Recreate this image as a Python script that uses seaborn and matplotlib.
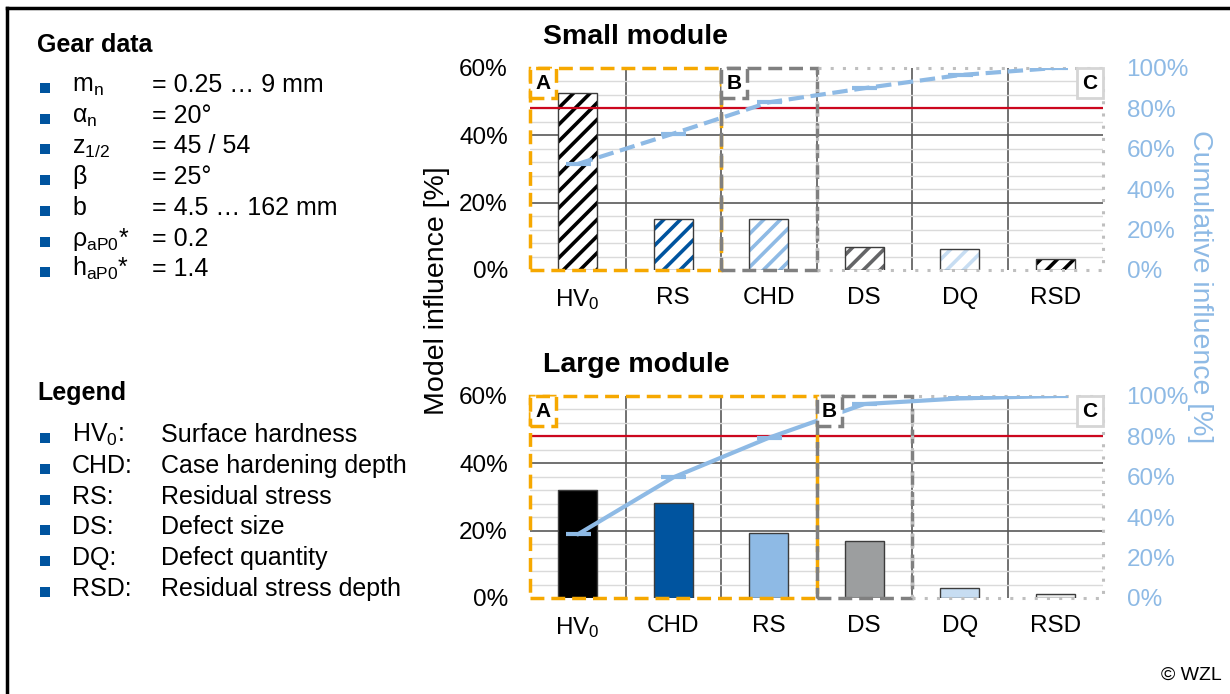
import numpy as np
import pandas as pd
import matplotlib
matplotlib.use("Agg")
import matplotlib.pyplot as plt
import seaborn as sns
from matplotlib.patches import Rectangle
from matplotlib.ticker import MultipleLocator, FixedLocator, FuncFormatter

# ----------------------------------------------------------------------
# Data
# ----------------------------------------------------------------------
small_cats = ["HV$_\\mathregular{0}$", "RS", "CHD", "DS", "DQ", "RSD"]
small_vals = [52.5, 15.0, 15.0, 6.8, 6.3, 3.3]
small_cum = [52.5, 67.5, 83.0, 90.0, 96.5, 100.0]
small_colors = ["#000000", "#00549F", "#8EBAE5", "#646567", "#C7DDF2", "#000000"]

large_cats = ["HV$_\\mathregular{0}$", "CHD", "RS", "DS", "DQ", "RSD"]
large_vals = [32.0, 28.2, 19.2, 16.8, 3.0, 1.2]
large_cum = [31.5, 59.7, 79.3, 96.0, 98.8, 100.0]
large_colors = ["#000000", "#00549F", "#8EBAE5", "#9C9E9F", "#C7DDF2", "#ECEDED"]

# ABC classes: (label, first category, last category)
small_abc = [("A", 0, 1), ("B", 2, 2), ("C", 3, 5)]
large_abc = [("A", 0, 2), ("B", 3, 3), ("C", 4, 5)]
threshold = 80  # cumulative influence [%]

gear_symbols = ["m$_\\mathregular{n}$", "α$_\\mathregular{n}$", "z$_\\mathregular{1/2}$", "β", "b",
                "ρ$_\\mathregular{aP0}$*", "h$_\\mathregular{aP0}$*"]
gear_values = ["= 0.25 … 9 mm", "= 20°", "= 45 / 54", "= 25°", "= 4.5 … 162 mm", "= 0.2", "= 1.4"]

legend_terms = ["HV$_\\mathregular{0}$:", "CHD:", "RS:", "DS:", "DQ:", "RSD:"]
legend_desc = ["Surface hardness", "Case hardening depth", "Residual stress",
               "Defect size", "Defect quantity", "Residual stress depth"]

# ----------------------------------------------------------------------
# Style
# ----------------------------------------------------------------------
sns.set_style("white")
plt.rcParams["font.family"] = ["Liberation Sans", "DejaVu Sans"]
plt.rcParams["mathtext.fontset"] = "custom"
plt.rcParams["mathtext.rm"] = "Liberation Sans"
plt.rcParams["mathtext.it"] = "Liberation Sans:italic"
plt.rcParams["mathtext.bf"] = "Liberation Sans:bold"
plt.rcParams["hatch.linewidth"] = 2.6
for key in ("text.color", "axes.labelcolor", "xtick.color", "ytick.color"):
    plt.rcParams[key] = "black"

W, H = 1230, 694
BLUE_LINE = "#8EBAE5"
RED = "#CC071E"
DARK = "#595959"
box_styles = {
    "A": dict(color="#F6A800", ls=(0, (4, 2)), lw=2.5),
    "B": dict(color="#808080", ls=(0, (4, 2)), lw=2.5),
    "C": dict(color="#BFBFBF", ls=(0, (1, 3)), lw=2.2),
}

fig = plt.figure(figsize=(W / 100, H / 100), dpi=100)


def draw_panel(top_px, cats, vals, cum, colors, hatched, line_ls, abc, title):
    rect = [530 / W, 1 - (top_px + 202) / H, 573 / W, 202 / H]
    ax = fig.add_axes(rect)
    df = pd.DataFrame({"cat": cats, "val": vals})
    sns.barplot(data=df, x="cat", y="val", hue="cat", palette=colors, legend=False,
                width=0.41, saturation=1, edgecolor="#3c3c3c", linewidth=1,
                ax=ax, zorder=3)
    if hatched:
        for patch, c in zip(list(ax.patches), colors):
            patch.set_facecolor("white")
            patch.set_edgecolor(c)
            patch.set_hatch("//")
            patch.set_linewidth(0)
            ax.add_patch(Rectangle(patch.get_xy(), patch.get_width(), patch.get_height(),
                                   fill=False, ec="#3c3c3c", lw=1, zorder=4))

    ax.set_xlim(-0.5, len(cats) - 0.5)
    ax.set_ylim(0, 60)
    ax.set_xlabel("")
    ax.set_ylabel("")
    ax.yaxis.set_major_locator(MultipleLocator(20))
    ax.yaxis.set_minor_locator(MultipleLocator(4))
    ax.xaxis.set_minor_locator(FixedLocator(np.arange(0.5, len(cats) - 1, 1)))
    ax.yaxis.set_major_formatter(FuncFormatter(lambda v, _: f"{v:.0f}%"))
    ax.grid(False)
    ax.yaxis.grid(True, which="minor", color="#DADADA", lw=1)
    ax.xaxis.grid(True, which="minor", color=DARK, lw=1.2)
    for v in (20, 40):
        ax.axhline(v, color=DARK, lw=1.2, zorder=1)
    ax.set_axisbelow(True)
    ax.tick_params(which="both", length=0)
    ax.tick_params(axis="y", pad=16, labelsize=17.5)
    ax.tick_params(axis="x", pad=12, labelsize=17.5)
    for s in ax.spines.values():
        s.set_visible(False)

    ax2 = ax.twinx()
    ldf = pd.DataFrame({"pos": np.arange(len(cats)), "cum": cum})
    sns.lineplot(data=ldf, x="pos", y="cum", ax=ax2, color=BLUE_LINE, lw=3,
                 linestyle=line_ls, marker="_", markersize=18, mew=3,
                 markeredgecolor=BLUE_LINE, zorder=6)
    ax2.axhline(threshold, color=RED, lw=1.6, zorder=2)
    ax2.set_ylim(0, 100)
    ax2.set_xlim(-0.5, len(cats) - 0.5)
    ax2.set_ylabel("")
    ax2.set_xlabel("")
    ax2.yaxis.set_major_locator(MultipleLocator(20))
    ax2.yaxis.set_major_formatter(FuncFormatter(lambda v, _: f"{v:.0f}%"))
    ax2.tick_params(axis="y", length=0, pad=17, labelsize=17.5, labelcolor=BLUE_LINE)
    ax2.grid(False)
    for s in ax2.spines.values():
        s.set_visible(False)

    for label, first, last in abc:
        st = box_styles[label]
        ax2.add_patch(Rectangle((first - 0.5, 0), last - first + 1, 100, fill=False,
                                ec=st["color"], ls=st["ls"], lw=st["lw"],
                                zorder=5, clip_on=False))
        if label == "C":
            xy, ha, off = (last + 0.5, 100), "right", (-4, -4)
            bb = dict(boxstyle="square,pad=0.25", fc="white", ec="#D5D5D5", lw=2)
        else:
            xy, ha, off = (first - 0.5, 100), "left", (4, -4)
            bb = dict(boxstyle="square,pad=0.25", fc="white", ec=st["color"],
                      ls=st["ls"], lw=st["lw"])
        ax2.annotate(label, xy=xy, xytext=off, textcoords="offset points",
                     ha=ha, va="top", fontsize=15, fontweight="bold", bbox=bb, zorder=7)

    fig.text(543 / W, 1 - (top_px - 31) / H, title, fontsize=20.5, fontweight="bold",
             ha="left", va="center")
    return ax


draw_panel(68, small_cats, small_vals, small_cum, small_colors, True, "--", small_abc, "Small module")
draw_panel(396, large_cats, large_vals, large_cum, large_colors, False, "-", large_abc, "Large module")

# shared axis labels
fig.text(437 / W, 1 - 291 / H, "Model influence [%]", rotation=90, fontsize=20.5,
         ha="center", va="center")
fig.text(1200 / W, 1 - 287 / H, "Cumulative influence [%]", rotation=270, fontsize=20.5,
         ha="center", va="center", color=BLUE_LINE)

# ----------------------------------------------------------------------
# Left text panel, in pixel coordinates
# ----------------------------------------------------------------------
tx = fig.add_axes([0, 0, 1, 1], zorder=-1)
tx.set_xlim(0, W)
tx.set_ylim(H, 0)
tx.axis("off")

tx.text(37, 52, "Gear data", fontsize=18, fontweight="bold", va="baseline")
gear_y = 92 + 30.7 * np.arange(len(gear_symbols))
tx.scatter(np.full(len(gear_y), 45), gear_y - 4, marker="s", s=52, c="#00549F", lw=0)
for y, sym, val in zip(gear_y, gear_symbols, gear_values):
    tx.text(72, y, sym, fontsize=18, va="baseline")
    tx.text(152, y, val, fontsize=18, va="baseline")

tx.text(37, 400, "Legend", fontsize=18, fontweight="bold", va="baseline")
leg_y = 442 + 30.8 * np.arange(len(legend_terms))
tx.scatter(np.full(len(leg_y), 45), leg_y - 4, marker="s", s=52, c="#00549F", lw=0)
for y, term, desc in zip(leg_y, legend_terms, legend_desc):
    tx.text(72, y, term, fontsize=18, va="baseline")
    tx.text(161, y, desc, fontsize=18, va="baseline")

tx.text(1222, 680, "© WZL", fontsize=14, ha="right", va="baseline")

# outer frame (left and top edges)
tx.plot([7, 7], [H, 8], color="black", lw=2.5, solid_capstyle="projecting")
tx.plot([7, W], [8, 8], color="black", lw=2.5, solid_capstyle="projecting")

fig.savefig("out.png", dpi=100)
